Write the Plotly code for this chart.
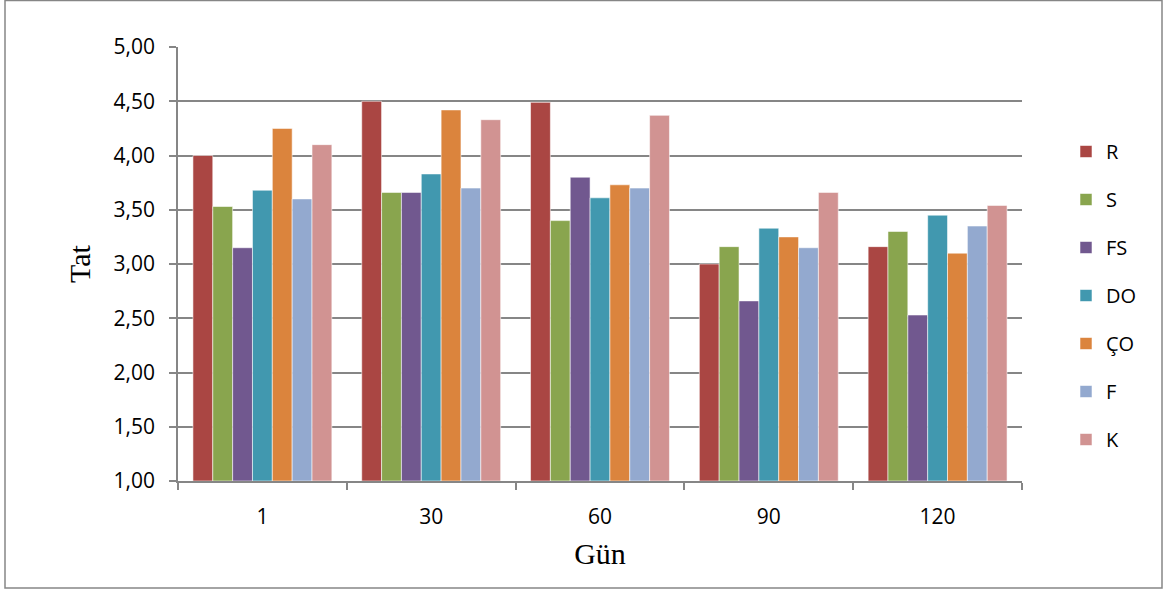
import plotly.graph_objects as go

categories = ["1", "30", "60", "90", "120"]
series_names = ["R", "S", "FS", "DO", "ÇO", "F", "K"]
R = [4.00, 4.50, 4.49, 3.00, 3.16]
S = [3.53, 3.66, 3.40, 3.16, 3.30]
FS = [3.15, 3.66, 3.80, 2.66, 2.53]
DO = [3.68, 3.83, 3.61, 3.33, 3.45]
CO = [4.25, 4.42, 3.73, 3.25, 3.10]
F = [3.60, 3.70, 3.70, 3.15, 3.35]
K = [4.10, 4.33, 4.37, 3.66, 3.54]
colors = ["#AA4643", "#89A54E", "#71588F", "#4198AF", "#DB843D", "#93A9CF", "#D19392"]
y_ticks = [1.0, 1.5, 2.0, 2.5, 3.0, 3.5, 4.0, 4.5, 5.0]

values = [R, S, FS, DO, CO, F, K]
axis_min = 1.0

fig = go.Figure()
for i, (name, vals) in enumerate(zip(series_names, values)):
    fig.add_trace(go.Bar(
        x=categories, y=[v - axis_min for v in vals], base=[axis_min] * len(vals),
        name=name, legendgroup=name,
        hovertext=[f"{v:.2f}" for v in vals],
        marker=dict(color=colors[i], line=dict(color="rgba(255,255,255,0.55)", width=1)),
    ))

L, R_, T, B = 178, 141, 47, 108
W, H = 1163, 589
pw, ph = W - L - R_, H - T - B

fig.update_layout(
    width=W, height=H,
    margin=dict(l=L, r=R_, t=T, b=B),
    paper_bgcolor="white", plot_bgcolor="white",
    barmode="group", bargap=0.177, bargroupgap=0,
    separators=", ",
    font=dict(family="Open Sans, Liberation Sans, sans-serif", size=21, color="#000000"),
    legend=dict(
        x=(1066 - L) / pw, y=(H - B - 132) / ph, xanchor="left", yanchor="top",
        font=dict(size=20), tracegroupgap=19, itemwidth=30,
        bgcolor="rgba(0,0,0,0)",
    ),
    xaxis=dict(
        type="category", showline=True, linecolor="#868686", linewidth=1.5,
        ticks="outside", tickson="boundaries", ticklen=7, tickcolor="#868686", tickwidth=1.5,
        ticklabelstandoff=16, showgrid=False,
        title=dict(text="Gün", font=dict(family="Liberation Serif, Times New Roman, serif", size=30), standoff=14),
    ),
    yaxis=dict(
        range=[1, 5], tickvals=y_ticks, tickformat=".2f",
        showline=True, linecolor="#868686", linewidth=1.5,
        ticks="outside", ticklen=7, tickcolor="#868686", tickwidth=1.5,
        showgrid=True, gridcolor="#868686", gridwidth=1.5, zeroline=False,
        ticklabelstandoff=10,
        title=dict(text="Tat", font=dict(family="Liberation Serif, Times New Roman, serif", size=30), standoff=14),
    ),
    shapes=[
        dict(type="rect", xref="paper", yref="paper",
             x0=(5 - L) / pw, x1=(1162 - L) / pw,
             y0=(H - B - 588) / ph, y1=(H - B - 0.5) / ph,
             line=dict(color="#868686", width=1.5), fillcolor="rgba(0,0,0,0)", layer="below"),
    ],
)

fig.write_html("out.html")
